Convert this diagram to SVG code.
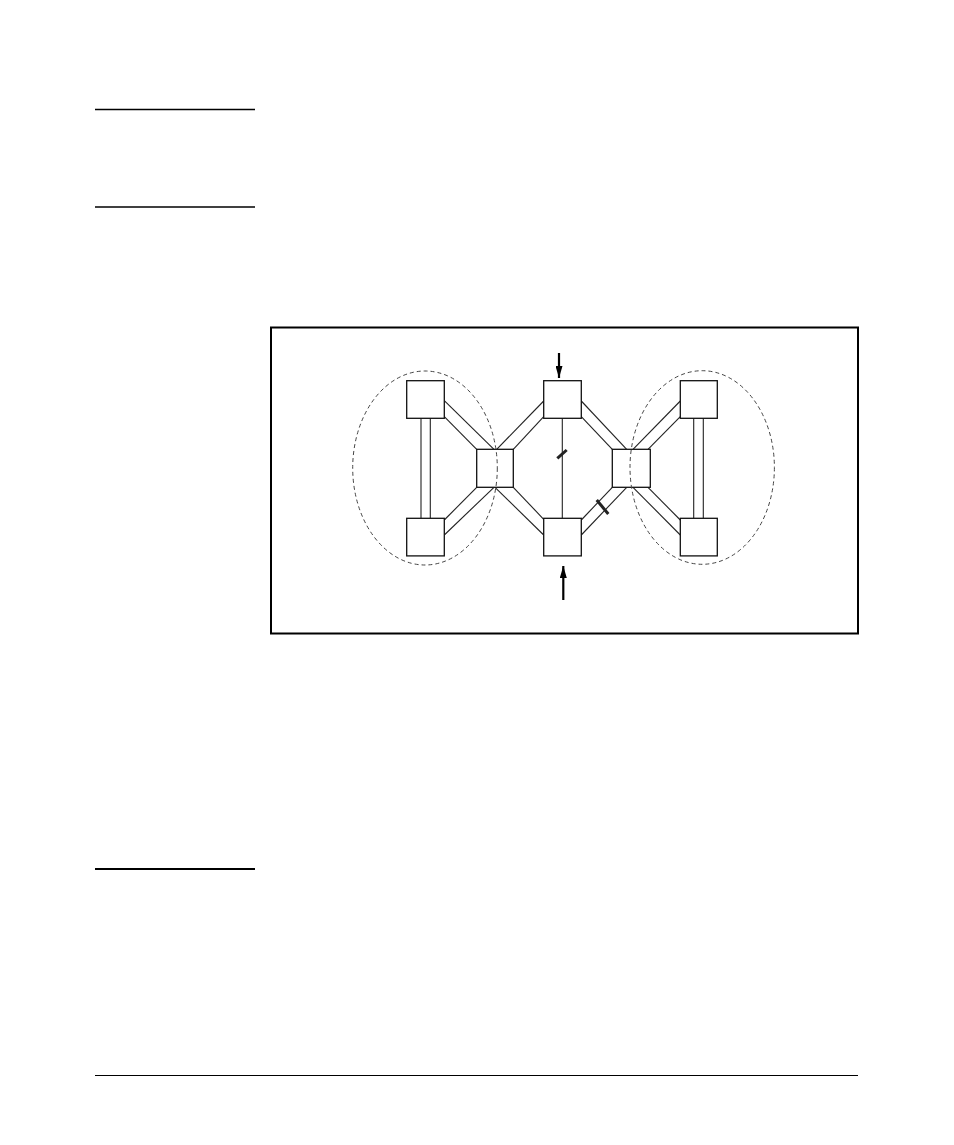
<svg xmlns="http://www.w3.org/2000/svg" width="954" height="1145" viewBox="0 0 954 1145">
<style>
.rule{stroke:#000;fill:none}
.ln{stroke:#222;stroke-width:1.1;fill:none}
.box{fill:#fff;stroke:#111;stroke-width:1.3}
.ell{fill:none;stroke:#444;stroke-width:1;stroke-dasharray:4 3}
.hash{stroke:#222;stroke-width:3;fill:none}
.arr{stroke:#000;stroke-width:2.2;fill:none}
</style>
<defs>
<marker id="ah" viewBox="0 0 12 7" refX="12" refY="3.5" markerWidth="12" markerHeight="7" markerUnits="userSpaceOnUse" orient="auto">
<path d="M0,0 L12,3.5 L0,7 Z" fill="#000"/>
</marker>
</defs>
<rect width="954" height="1145" fill="#fff"/>
<g id="rules">
<line class="rule" x1="95" y1="109.5" x2="255" y2="109.5" stroke-width="1.3"/>
<line class="rule" x1="95" y1="207" x2="255" y2="207" stroke-width="1.3"/>
<line class="rule" x1="95" y1="869" x2="255" y2="869" stroke-width="2"/>
<line class="rule" x1="95" y1="1075.5" x2="858" y2="1075.5" stroke-width="1"/>
</g>
<rect id="frame" x="271" y="327.5" width="587" height="306" fill="none" stroke="#000" stroke-width="2"/>
<g id="connectors">
<line class="ln" x1="421" y1="418" x2="421" y2="519"/>
<line class="ln" x1="430.3" y1="418" x2="430.3" y2="519"/>
<line class="ln" x1="693.7" y1="418" x2="693.7" y2="519"/>
<line class="ln" x1="703.3" y1="418" x2="703.3" y2="519"/>
<line class="ln" x1="444.3" y1="400.7" x2="494" y2="449.3"/>
<line class="ln" x1="444.3" y1="416.7" x2="476.7" y2="449.3"/>
<line class="ln" x1="476.7" y1="487.3" x2="444.3" y2="520"/>
<line class="ln" x1="494" y1="487.3" x2="444.3" y2="535"/>
<line class="ln" x1="496.7" y1="449.3" x2="543.7" y2="401"/>
<line class="ln" x1="513.3" y1="449.3" x2="543.7" y2="416.7"/>
<line class="ln" x1="495" y1="487.3" x2="543.7" y2="535"/>
<line class="ln" x1="513.3" y1="487.3" x2="543.7" y2="519.3"/>
<line class="ln" x1="581.3" y1="401" x2="626.7" y2="449.3"/>
<line class="ln" x1="581.3" y1="416.7" x2="612.3" y2="449.3"/>
<line class="ln" x1="612.3" y1="487.3" x2="581.3" y2="520"/>
<line class="ln" x1="626.7" y1="487.3" x2="581.3" y2="535"/>
<line class="ln" x1="633" y1="449.3" x2="680.3" y2="401"/>
<line class="ln" x1="648" y1="449.3" x2="680.3" y2="416.7"/>
<line class="ln" x1="633" y1="487.3" x2="680.3" y2="535"/>
<line class="ln" x1="648" y1="487.3" x2="680.3" y2="520"/>
<line class="ln" x1="562.3" y1="418" x2="562.3" y2="519"/>
<line class="hash" x1="557.3" y1="458.3" x2="566.7" y2="450"/>
<line class="hash" x1="596.7" y1="500" x2="608.3" y2="514"/>
<line class="arr" x1="559" y1="353" x2="559" y2="378" marker-end="url(#ah)"/>
<line class="arr" x1="563.3" y1="600" x2="563.3" y2="566" marker-end="url(#ah)"/>
</g>
<g id="node-tl"><rect class="box" x="406.7" y="380.7" width="37.6" height="37.6"/></g>
<g id="node-bl"><rect class="box" x="406.7" y="518.3" width="37.6" height="37.6"/></g>
<g id="node-cl"><rect class="box" x="476.7" y="449.3" width="36.6" height="38"/></g>
<g id="node-tm"><rect class="box" x="543.7" y="380.7" width="37.6" height="37.6"/></g>
<g id="node-bm"><rect class="box" x="543.7" y="518.3" width="37.6" height="37.6"/></g>
<g id="node-cr"><rect class="box" x="612.3" y="449.3" width="38" height="38"/></g>
<g id="node-tr"><rect class="box" x="680.3" y="380.7" width="37" height="37.6"/></g>
<g id="node-br"><rect class="box" x="680.3" y="518.3" width="37" height="37.6"/></g>
<g id="groups">
<ellipse class="ell" cx="425" cy="468" rx="72.3" ry="97"/>
<ellipse class="ell" cx="702.2" cy="467.5" rx="72.2" ry="96.8"/>
</g>
</svg>
